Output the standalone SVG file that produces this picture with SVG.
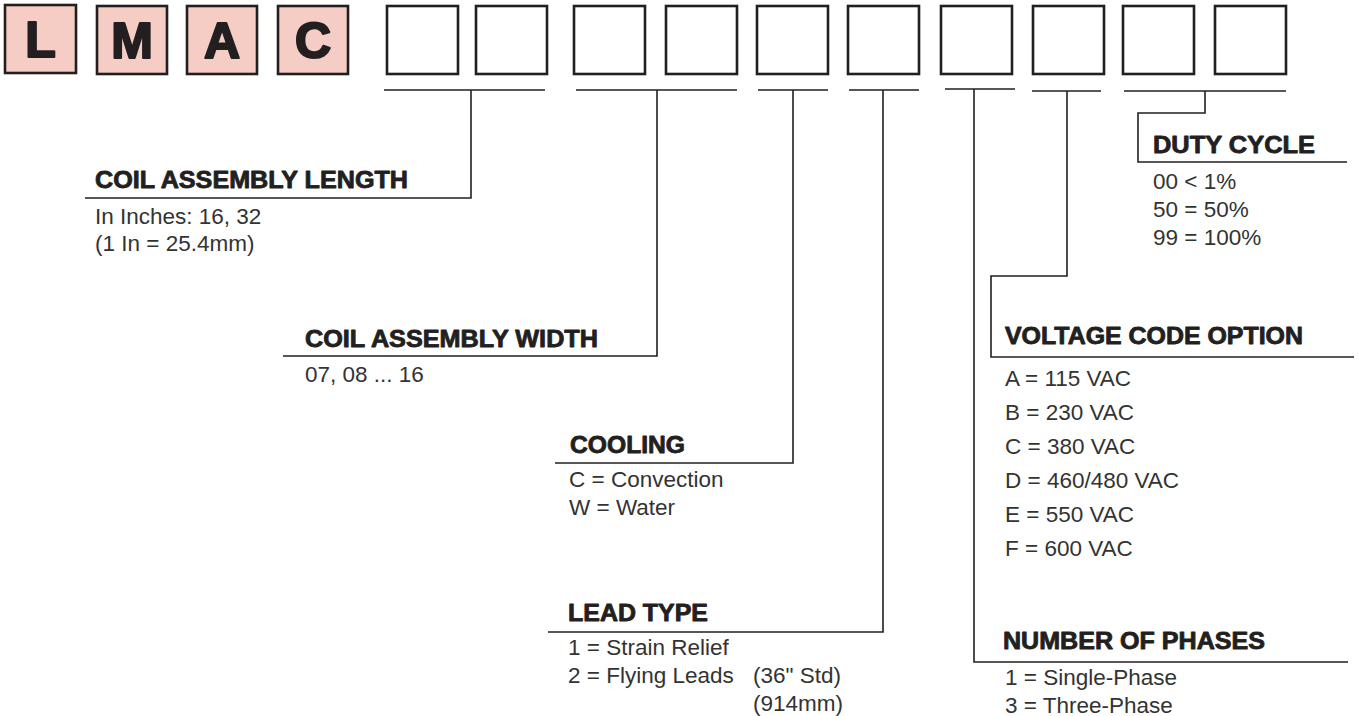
<svg xmlns="http://www.w3.org/2000/svg" width="1359" height="716" viewBox="0 0 1359 716">
<style>
.box{fill:#ffffff;stroke:#231f20;stroke-width:2.6}
.pink{fill:#f5cdc5}
.letter{font-family:"Liberation Sans",Arial,sans-serif;font-weight:bold;font-size:50px;fill:#231f20;stroke:#231f20;stroke-width:2.2;stroke-linejoin:round;text-anchor:middle}
.ln{fill:none;stroke:#231f20;stroke-width:1.6}
.head{font-family:"Liberation Sans",Arial,sans-serif;font-weight:bold;font-size:23px;fill:#231f20;stroke:#231f20;stroke-width:0.8;stroke-linejoin:round}
.body{font-family:"Liberation Sans",Arial,sans-serif;font-size:22.5px;fill:#333333}
</style>
<rect width="1359" height="716" fill="#ffffff"/>
<g id="code-boxes">
<g id="box-L"><rect class="box pink" x="5" y="5" width="71" height="68"/><text class="letter" x="40.5" y="57">L</text></g>
<g id="box-M"><rect class="box pink" x="97" y="6" width="70" height="68"/><text class="letter" x="132" y="58">M</text></g>
<g id="box-A"><rect class="box pink" x="187" y="6" width="70" height="68"/><text class="letter" x="222" y="58">A</text></g>
<g id="box-C"><rect class="box pink" x="278" y="6" width="70" height="68"/><text class="letter" x="313" y="58">C</text></g>
<g id="box-1"><rect class="box" x="387" y="6" width="71" height="68"/></g>
<g id="box-2"><rect class="box" x="476" y="6" width="71" height="68"/></g>
<g id="box-3"><rect class="box" x="574" y="6" width="71" height="68"/></g>
<g id="box-4"><rect class="box" x="666" y="6" width="71" height="68"/></g>
<g id="box-5"><rect class="box" x="757" y="6" width="71" height="68"/></g>
<g id="box-6"><rect class="box" x="848" y="6" width="71" height="68"/></g>
<g id="box-7"><rect class="box" x="941" y="6" width="71" height="68"/></g>
<g id="box-8"><rect class="box" x="1033" y="6" width="71" height="68"/></g>
<g id="box-9"><rect class="box" x="1123" y="6" width="71" height="68"/></g>
<g id="box-10"><rect class="box" x="1215" y="6" width="71" height="68"/></g>
</g>
<g id="connectors">
<path class="ln" d="M384 90H545M576 90H737M758 90H828M849 90H919M945 89H1015M1032 91H1101M1124 91H1286"/>
<path class="ln" d="M471 90V198H85"/>
<path class="ln" d="M657 90V356H283"/>
<path class="ln" d="M793 90V463H555"/>
<path class="ln" d="M883 90V632H548"/>
<path class="ln" d="M974 89V662H1348"/>
<path class="ln" d="M1067 91V276H991V357H1354"/>
<path class="ln" d="M1205 91V113H1138V162H1347"/>
</g>
<g id="coil-length">
<text class="head" x="95" y="188" textLength="313" lengthAdjust="spacingAndGlyphs">COIL ASSEMBLY LENGTH</text>
<text class="body" x="95" y="224">In Inches: 16, 32</text>
<text class="body" x="95" y="251">(1 In = 25.4mm)</text>
</g>
<g id="coil-width">
<text class="head" x="305" y="347" textLength="293" lengthAdjust="spacingAndGlyphs">COIL ASSEMBLY WIDTH</text>
<text class="body" x="305" y="382">07, 08 ... 16</text>
</g>
<g id="cooling">
<text class="head" x="570" y="453" textLength="115" lengthAdjust="spacingAndGlyphs">COOLING</text>
<text class="body" x="569" y="487">C = Convection</text>
<text class="body" x="569" y="515">W = Water</text>
</g>
<g id="lead-type">
<text class="head" x="568" y="621" textLength="140" lengthAdjust="spacingAndGlyphs">LEAD TYPE</text>
<text class="body" x="568" y="655">1 = Strain Relief</text>
<text class="body" x="568" y="683">2 = Flying Leads</text>
<text class="body" x="753" y="683">(36" Std)</text>
<text class="body" x="753" y="711">(914mm)</text>
</g>
<g id="duty-cycle">
<text class="head" x="1153" y="153" textLength="162" lengthAdjust="spacingAndGlyphs">DUTY CYCLE</text>
<text class="body" x="1153" y="189">00 &lt; 1%</text>
<text class="body" x="1153" y="217">50 = 50%</text>
<text class="body" x="1153" y="245">99 = 100%</text>
</g>
<g id="voltage">
<text class="head" x="1005" y="344" textLength="298" lengthAdjust="spacingAndGlyphs">VOLTAGE CODE OPTION</text>
<text class="body" x="1005" y="386">A = 115 VAC</text>
<text class="body" x="1005" y="420">B = 230 VAC</text>
<text class="body" x="1005" y="454">C = 380 VAC</text>
<text class="body" x="1005" y="488">D = 460/480 VAC</text>
<text class="body" x="1005" y="522">E = 550 VAC</text>
<text class="body" x="1005" y="556">F = 600 VAC</text>
</g>
<g id="phases">
<text class="head" x="1003" y="649" textLength="262" lengthAdjust="spacingAndGlyphs">NUMBER OF PHASES</text>
<text class="body" x="1005" y="685">1 = Single-Phase</text>
<text class="body" x="1005" y="713">3 = Three-Phase</text>
</g>
</svg>
